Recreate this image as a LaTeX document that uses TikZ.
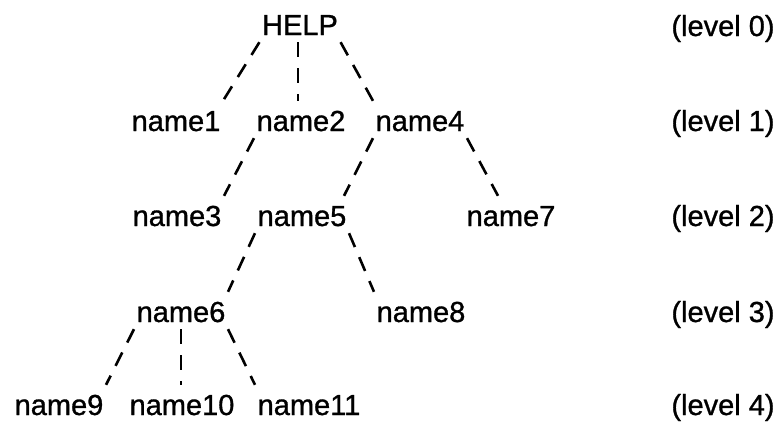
\documentclass[tikz,border=0pt]{standalone}
\usepackage{fontspec}
\setmainfont{Liberation Sans}
\newfontfamily\treefont{Liberation Sans}[FakeBold=1]
\usetikzlibrary{calc}
\tikzset{
  word/.style={anchor=base, inner xsep=2.5pt, inner ysep=0pt,
    text height=30pt, text depth=7pt,
    font=\treefont\fontsize{29}{32}\selectfont},
  leaf/.style={word, text depth=0pt},
  levelnote/.style={anchor=base, inner sep=0pt,
    font=\treefont\fontsize{29}{32}\selectfont},
  link/.style={line width=2.6pt, dash pattern=on 15pt off 11pt}
}
\begin{document}
\begin{tikzpicture}[x=1pt,y=-1pt]
\useasboundingbox (0,0) rectangle (782,421);
% tree nodes (y = baseline)
\node[word] (help) at (300,35) {HELP};
\node[word] (n1) at (176,131) {name1};
\node[word] (n2) at (301,131) {name2};
\node[word] (n4) at (420,131) {name4};
\node[word] (n3) at (177,226) {name3};
\node[word] (n5) at (302,226) {name5};
\node[word] (n7) at (511,226) {name7};
\node[word] (n6) at (181,322) {name6};
\node[word] (n8) at (421,322) {name8};
\node[leaf] (n9) at (59,415) {name9};
\node[leaf] (n10) at (182,415) {name10};
\node[leaf] (n11) at (309,415) {name11};
% level captions
\node[levelnote] (l0) at (723,36) {(level 0)};
\node[levelnote] (l1) at (723,131) {(level 1)};
\node[levelnote] (l2) at (723,226) {(level 2)};
\node[levelnote] (l3) at (723,322) {(level 3)};
\node[levelnote] (l4) at (723,415) {(level 4)};
% dashed links
\draw[link] (help.south west) -- (n1.north east);
\draw[link] ($(help.south)+(-2,0)$) -- ($(help.south |- n2.north)+(-2,0)$);
\draw[link] (help.south east) -- (n4.north west);
\draw[link] (n2.south west) -- (n3.north east);
\draw[link] (n4.south west) -- ($(n5.north east)+(-5,0)$);
\draw[link] (n4.south east) -- ($(n7.north)+(-13,0)$);
\draw[link] (n5.south west) -- (n6.north east);
\draw[link] (n5.south east) -- (n8.north west);
\draw[link] (n6.south west) -- (n9.north east);
\draw[link] (n6.south) -- (n6.south |- n10.north);
\draw[link] (n6.south east) -- (n11.north west);
\end{tikzpicture}
\end{document}
